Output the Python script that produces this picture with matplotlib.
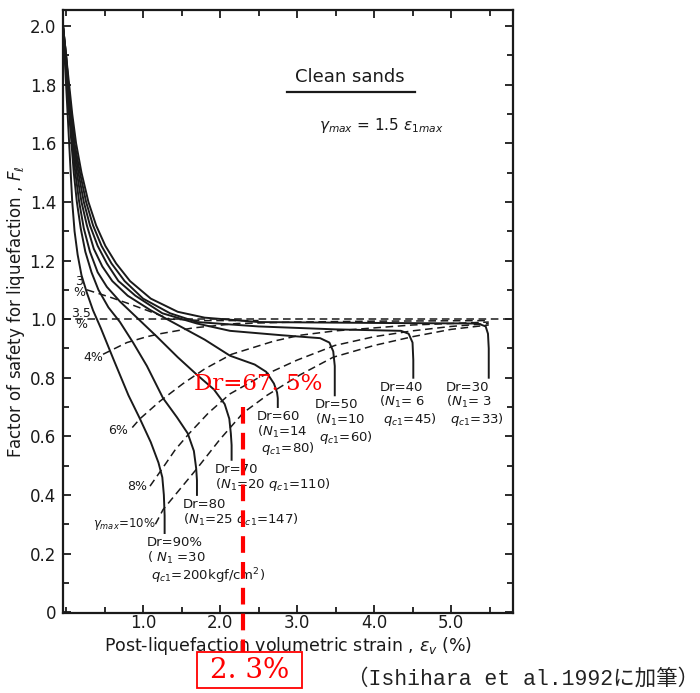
import matplotlib
matplotlib.use("Agg")
import matplotlib.pyplot as plt
from matplotlib.ticker import MultipleLocator
from matplotlib.patches import Rectangle

# ---- Dr curves (volumetric strain %, factor of safety) ----
dr90_x = [-0.04, -0.02, 0.00, 0.02, 0.04, 0.06, 0.08, 0.11, 0.15, 0.20, 0.27, 0.35, 0.45, 0.62, 0.81,
          0.95, 1.10, 1.20, 1.25, 1.27, 1.28, 1.28]
dr90_f = [2.00, 1.90, 1.80, 1.70, 1.60, 1.50, 1.40, 1.30, 1.22, 1.15, 1.09, 1.03, 0.97, 0.86, 0.74,
          0.665, 0.58, 0.51, 0.46, 0.40, 0.33, 0.27]

dr80_x = [-0.04, -0.01, 0.01, 0.04, 0.07, 0.10, 0.14, 0.19, 0.25, 0.33, 0.42, 0.55, 0.70, 0.87, 1.05,
          1.26, 1.44, 1.58, 1.66, 1.69, 1.70, 1.70]
dr80_f = [2.00, 1.90, 1.80, 1.70, 1.60, 1.50, 1.40, 1.31, 1.23, 1.16, 1.10, 1.04, 0.99, 0.92, 0.84,
          0.73, 0.665, 0.61, 0.55, 0.49, 0.45, 0.40]

dr70_x = [-0.04, -0.01, 0.02, 0.05, 0.08, 0.12, 0.17, 0.23, 0.31, 0.41, 0.53, 0.70, 0.90, 1.18, 1.45,
          1.70, 1.92, 2.06, 2.12, 2.14, 2.15, 2.15]
dr70_f = [2.00, 1.90, 1.80, 1.70, 1.60, 1.50, 1.40, 1.31, 1.23, 1.16, 1.11, 1.06, 1.01, 0.94, 0.87,
          0.81, 0.76, 0.71, 0.66, 0.61, 0.57, 0.52]

dr60_x = [-0.04, -0.01, 0.02, 0.05, 0.09, 0.14, 0.20, 0.27, 0.36, 0.47, 0.60, 0.80, 1.10, 1.45, 1.80,
          2.13, 2.45, 2.60, 2.70, 2.74, 2.75, 2.75]
dr60_f = [2.00, 1.90, 1.80, 1.70, 1.60, 1.50, 1.40, 1.32, 1.24, 1.18, 1.13, 1.08, 1.03, 0.98, 0.93,
          0.875, 0.845, 0.82, 0.78, 0.75, 0.73, 0.70]

dr50_x = [-0.04, 0.00, 0.03, 0.06, 0.10, 0.16, 0.23, 0.31, 0.41, 0.53, 0.68, 0.90, 1.25, 1.70, 2.13,
          2.80, 3.30, 3.42, 3.47, 3.49, 3.49]
dr50_f = [2.00, 1.90, 1.80, 1.70, 1.60, 1.50, 1.40, 1.32, 1.25, 1.19, 1.13, 1.08, 1.02, 0.985, 0.96,
          0.945, 0.935, 0.92, 0.89, 0.84, 0.74]

dr40_x = [-0.04, 0.00, 0.03, 0.07, 0.11, 0.18, 0.26, 0.35, 0.46, 0.59, 0.76, 1.00, 1.35, 1.70, 2.50,
          3.50, 4.35, 4.45, 4.50, 4.51, 4.51]
dr40_f = [2.00, 1.90, 1.80, 1.70, 1.60, 1.50, 1.40, 1.32, 1.25, 1.19, 1.13, 1.07, 1.02, 0.99, 0.975,
          0.965, 0.96, 0.95, 0.92, 0.86, 0.80]

dr30_x = [-0.04, 0.00, 0.04, 0.08, 0.13, 0.20, 0.29, 0.39, 0.51, 0.65, 0.83, 1.10, 1.45, 1.80, 2.50,
          4.00, 5.35, 5.45, 5.48, 5.49, 5.49]
dr30_f = [2.00, 1.90, 1.80, 1.70, 1.60, 1.50, 1.40, 1.32, 1.25, 1.19, 1.13, 1.07, 1.025, 1.005, 0.99,
          0.987, 0.985, 0.975, 0.95, 0.90, 0.80]

# ---- gamma_max contours (dashed) ----
g10_x = [1.16, 1.26, 1.48, 1.70, 2.00, 2.30, 2.61, 3.04, 3.47, 4.00, 4.50, 5.00, 5.49]
g10_f = [0.30, 0.35, 0.42, 0.49, 0.59, 0.68, 0.74, 0.81, 0.87, 0.91, 0.94, 0.965, 0.98]

g8_x = [1.09, 1.25, 1.42, 1.60, 1.85, 2.13, 2.50, 3.00, 3.49, 4.00, 4.50, 5.00, 5.49]
g8_f = [0.43, 0.49, 0.555, 0.61, 0.68, 0.745, 0.80, 0.86, 0.91, 0.94, 0.96, 0.975, 0.985]

g6_x = [0.86, 0.96, 1.22, 1.52, 1.80, 2.15, 2.70, 3.04, 3.50, 4.00, 4.50, 5.49]
g6_f = [0.63, 0.66, 0.72, 0.78, 0.83, 0.88, 0.925, 0.945, 0.96, 0.97, 0.98, 0.99]

g4_x = [0.48, 0.79, 1.05, 1.22, 1.65, 2.22, 3.00, 4.00, 5.49]
g4_f = [0.88, 0.92, 0.94, 0.95, 0.97, 0.985, 0.99, 0.993, 0.995]

g3_x = [0.27, 0.57, 0.79, 1.05, 1.35, 1.80, 2.50]
g3_f = [1.10, 1.075, 1.055, 1.03, 1.00, 0.995, 0.995]

# annotation values
dr_mark = 2.3
dr_mark_top = 0.70
dr_mark_bottom = -0.137

XTICKS = [1.0, 2.0, 3.0, 4.0, 5.0]
YTICKS = [0.0, 0.2, 0.4, 0.6, 0.8, 1.0, 1.2, 1.4, 1.6, 1.8, 2.0]

LINE = "#1a1a1a"
RED = "#ff0000"
SERIF_JP = ["DejaVu Serif", "Noto Sans CJK JP"]
MONO_JP = ["Liberation Mono", "Noto Sans CJK JP"]

fig = plt.figure(figsize=(7, 6.93), dpi=100)
ax = fig.add_axes([63 / 700, 1 - 613 / 693, 450 / 700, 603 / 693])

for xs, fs in [(dr90_x, dr90_f), (dr80_x, dr80_f), (dr70_x, dr70_f), (dr60_x, dr60_f),
               (dr50_x, dr50_f), (dr40_x, dr40_f), (dr30_x, dr30_f)]:
    ax.plot(xs, fs, color=LINE, lw=1.4, solid_joinstyle="round")

for xs, fs in [(g10_x, g10_f), (g8_x, g8_f), (g6_x, g6_f), (g4_x, g4_f), (g3_x, g3_f)]:
    ax.plot(xs, fs, color=LINE, lw=1.1, ls=(0, (5, 3)))

ax.axhline(1.0, color=LINE, lw=1.1, ls=(0, (5, 3)))

ax.set_xlim(-0.04, 5.805)
ax.set_ylim(-0.003, 2.055)

ax.set_xticks(XTICKS)
ax.set_xticklabels([f"{v:.1f}" for v in XTICKS])
ax.set_yticks(YTICKS)
ax.set_yticklabels(["0"] + [f"{v:.1f}" for v in YTICKS[1:]])
ax.xaxis.set_minor_locator(MultipleLocator(0.5))
ax.yaxis.set_minor_locator(MultipleLocator(0.1))
ax.tick_params(which="both", direction="in", top=True, right=True, width=1.3,
               labelsize=12, colors=LINE)
ax.tick_params(which="major", length=6)
ax.tick_params(which="minor", length=4)
ax.tick_params(axis="x", pad=1)
ax.tick_params(axis="y", pad=5)
for s in ax.spines.values():
    s.set_linewidth(1.6)
    s.set_color(LINE)

ax.set_ylabel(r"Factor of safety for liquefaction , $F_\ell$", fontsize=12, color=LINE, labelpad=2)
ax.set_xlabel(r"Post-liquefaction volumetric strain , $\varepsilon_v$ (%)", fontsize=12.5,
              color=LINE, labelpad=2)

# header text
ax.text(3.69, 1.795, "Clean sands", fontsize=13, ha="center", va="bottom", color=LINE)
ax.plot([2.87, 4.53], [1.775, 1.775], color=LINE, lw=1.6)
ax.text(4.10, 1.66, r"$\gamma_{max}$ = 1.5 $\varepsilon_{1max}$", fontsize=11,
        ha="center", va="center", color=LINE)

# gamma labels
small = dict(fontsize=9, color=LINE, ha="center", va="center")
ax.text(0.17, 1.11, "3\n%", linespacing=0.8, **small)
ax.text(0.20, 1.00, "3.5\n%", linespacing=0.8, **small)
ax.text(0.35, 0.87, "4%", **small)
ax.text(0.68, 0.62, "6%", **small)
ax.text(0.92, 0.43, "8%", **small)
ax.text(0.76, 0.30, r"$\gamma_{max}$=10%", fontsize=8.5, color=LINE, ha="center", va="center")

lab = dict(fontsize=9.5, color=LINE, ha="left", va="top", linespacing=1.05)
ax.text(1.05, 0.26, "Dr=90%\n" + r"( $N_1$ =30" + "\n" + r" $q_{c1}$=200kgf/cm$^2$)", **lab)
ax.text(1.52, 0.39, "Dr=80\n" + r"($N_1$=25 $q_{c1}$=147)", **lab)
ax.text(1.93, 0.51, "Dr=70\n" + r"($N_1$=20 $q_{c1}$=110)", **lab)
ax.text(2.48, 0.69, "Dr=60\n" + r"($N_1$=14" + "\n" + r" $q_{c1}$=80)", **lab)
ax.text(3.23, 0.73, "Dr=50\n" + r"($N_1$=10" + "\n" + r" $q_{c1}$=60)", **lab)
ax.text(4.07, 0.79, "Dr=40\n" + r"($N_1$= 6" + "\n" + r" $q_{c1}$=45)", **lab)
ax.text(4.93, 0.79, "Dr=30\n" + r"($N_1$= 3" + "\n" + r" $q_{c1}$=33)", **lab)

# red annotations
ax.plot([dr_mark, dr_mark], [dr_mark_top, dr_mark_bottom], color=RED, lw=3,
        ls=(0, (4, 2.2)), clip_on=False, zorder=5)
ax.text(2.50, 0.78, "Dr=67. 5%", color=RED, fontsize=16.5, ha="center", va="center",
        family=SERIF_JP, zorder=6)

fig.patches.append(Rectangle((197 / 700, 1 - 688 / 693), 105 / 700, 36 / 693,
                             transform=fig.transFigure, fill=False, edgecolor=RED, lw=1.3))
fig.text(250 / 700, 1 - 670 / 693, "2. 3%", color=RED, fontsize=20, ha="center", va="center",
         family=SERIF_JP)
fig.text(699 / 700, 1 - 679 / 693, "（Ishihara et al.1992に加筆）", color="#222222", fontsize=15.5,
         ha="right", va="center", family=MONO_JP)

fig.savefig("out.png", dpi=100, facecolor="white")
